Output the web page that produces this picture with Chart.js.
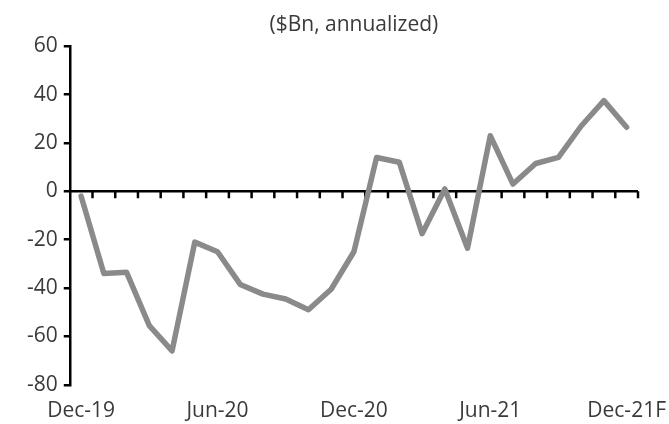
<!DOCTYPE html>
<html>
<head>
<meta charset="utf-8">
<script src="https://cdn.jsdelivr.net/npm/chart.js@4.4.1/dist/chart.umd.min.js"></script>
<style>
  html, body { margin: 0; padding: 0; background: #fff; }
  #wrap { width: 669px; height: 424px; }
</style>
</head>
<body>
<div id="wrap"><canvas id="chart" width="669" height="424"></canvas></div>
<script>
// monthly, Dec-19 .. Dec-21F
const months = ['Dec-19','Jan-20','Feb-20','Mar-20','Apr-20','May-20','Jun-20','Jul-20','Aug-20','Sep-20','Oct-20','Nov-20',
                'Dec-20','Jan-21','Feb-21','Mar-21','Apr-21','May-21','Jun-21','Jul-21','Aug-21','Sep-21','Oct-21','Nov-21','Dec-21F'];
const values = [-2, -34, -33.5, -55.5, -66, -21, -25, -38.5, -42.5, -44.5, -49, -40.5,
                -25, 14, 12, -17.5, 1, -23.5, 23, 3, 11.5, 14, 27, 37.5, 26.5];
const yTicks = [-80, -60, -40, -20, 0, 20, 40, 60];
const title = '($Bn, annualized)';

const FONT = "'Open Sans', 'Noto Sans', sans-serif";
const TXT = '#3a3a3a';

// zero line with month ticks, drawn from the scales
const zeroAxis = {
  id: 'zeroAxis',
  beforeDatasetsDraw(chart) {
    const ctx = chart.ctx, x = chart.scales.x, y = chart.scales.y;
    const y0 = y.getPixelForValue(0);
    const half = (x.getPixelForValue(1) - x.getPixelForValue(0)) / 2;
    const left = chart.chartArea.left, right = x.getPixelForValue(months.length - 1) + half;
    ctx.save();
    ctx.strokeStyle = '#000';
    ctx.lineWidth = 2.5;
    ctx.beginPath();
    ctx.moveTo(left, y0);
    ctx.lineTo(right, y0);
    for (let i = 0; i < months.length; i++) {
      const tx = x.getPixelForValue(i) + half;
      ctx.moveTo(tx, y0);
      ctx.lineTo(tx, y0 + 7);
    }
    ctx.stroke();
    ctx.restore();
  }
};

new Chart(document.getElementById('chart'), {
  type: 'line',
  data: {
    labels: months,
    datasets: [{
      data: values,
      borderColor: '#8a8a8a',
      borderWidth: 5.5,
      pointRadius: 0,
      tension: 0,
      borderJoinStyle: 'round',
      borderCapStyle: 'round'
    }]
  },
  options: {
    responsive: false,
    animation: false,
    layout: { padding: { left: 21, right: 31, top: 0, bottom: -14 } },
    plugins: {
      legend: { display: false },
      tooltip: { enabled: false },
      title: {
        display: true,
        fullSize: false,
        text: title,
        color: TXT,
        font: { family: FONT, size: 21, weight: 'normal', lineHeight: 1.2 },
        padding: { top: 12, bottom: 9 }
      }
    },
    scales: {
      x: {
        offset: true,
        afterFit: (s) => { s.paddingRight = 0; },
        grid: { display: false, drawTicks: false },
        border: { display: false },
        ticks: {
          autoSkip: false,
          maxRotation: 0,
          padding: 14,
          color: TXT,
          font: { family: FONT, size: 21 },
          callback: (v, i) => (i % 6 === 0 ? months[i] : '')
        }
      },
      y: {
        min: -80,
        max: 60,
        afterBuildTicks: (s) => { s.ticks = yTicks.map(v => ({ value: v })); },
        grid: { drawOnChartArea: false, drawTicks: true, tickLength: 6, color: '#000', lineWidth: 2.5 },
        border: { display: true, color: '#000', width: 2.5 },
        ticks: {
          padding: 6,
          color: TXT,
          font: { family: FONT, size: 21 }
        }
      }
    }
  },
  plugins: [zeroAxis]
});
</script>
</body>
</html>
